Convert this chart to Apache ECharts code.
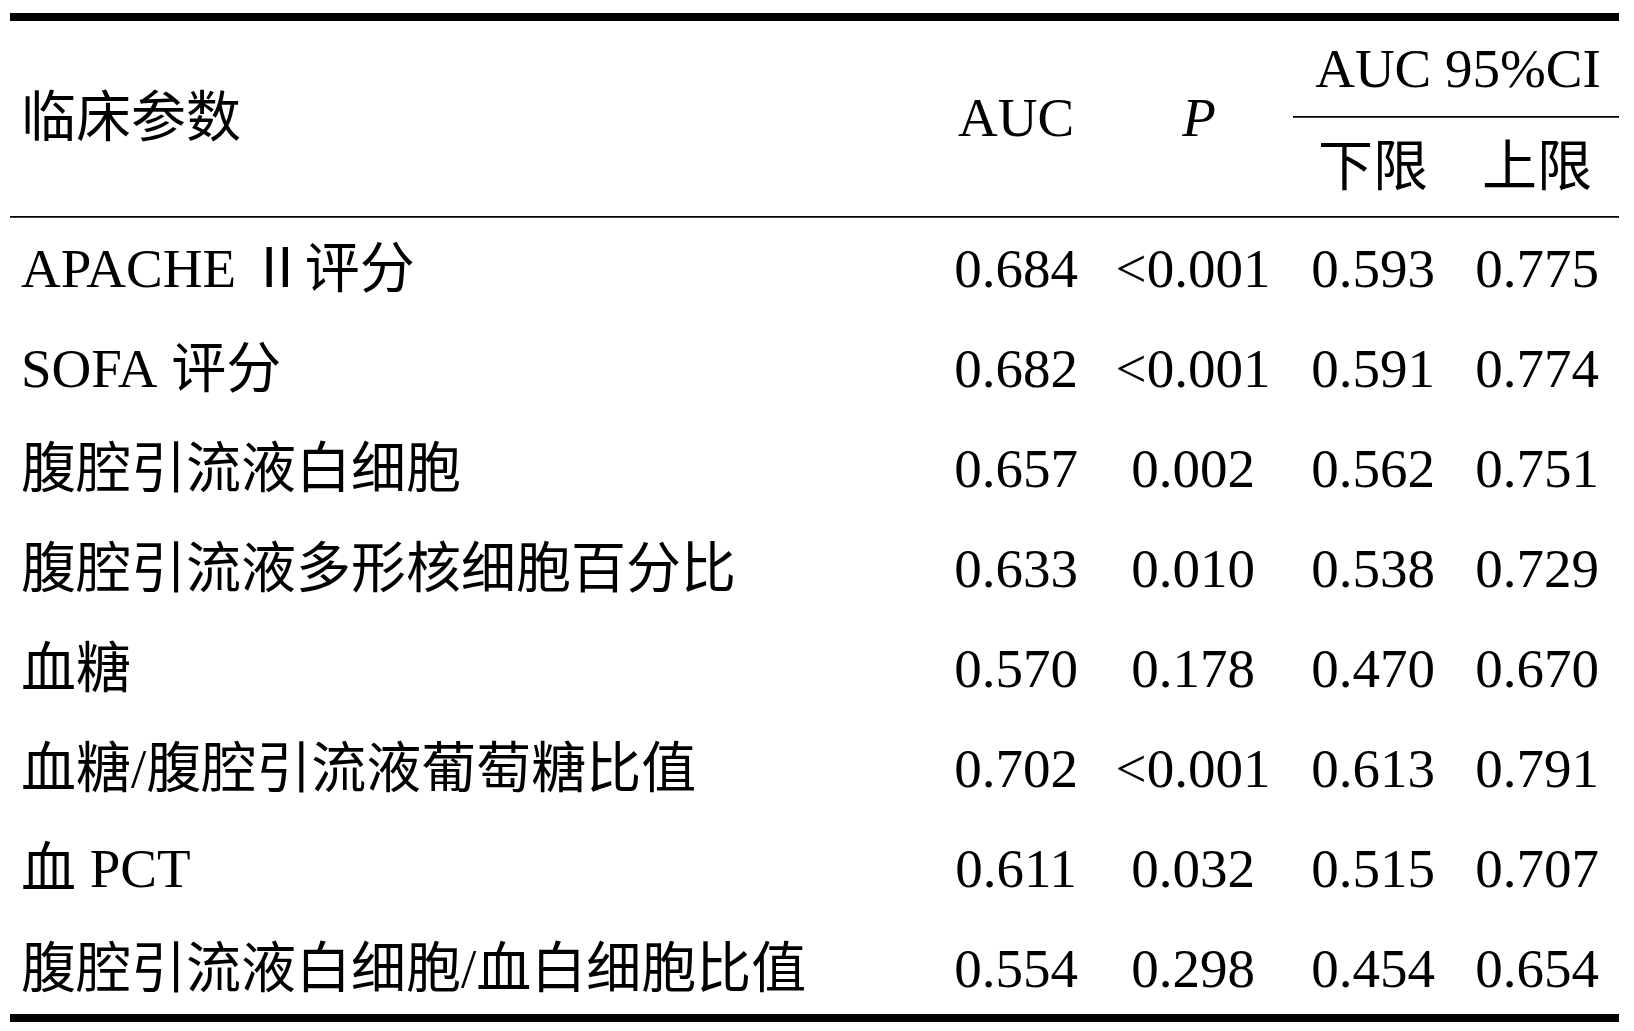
<!DOCTYPE html>
<html>
<head>
<meta charset="utf-8">
<script src="https://cdn.jsdelivr.net/npm/echarts@6/dist/echarts.min.js"></script>
<style>
html,body{margin:0;padding:0;background:#ffffff;}
#chart{width:1634px;height:1031px;}
</style>
</head>
<body>
<div id="chart"></div>
<script>
// ---- table data ----
const params = [
  'APACHE Ⅱ评分',
  'SOFA 评分',
  '腹腔引流液白细胞',
  '腹腔引流液多形核细胞百分比',
  '血糖',
  '血糖/腹腔引流液葡萄糖比值',
  '血 PCT',
  '腹腔引流液白细胞/血白细胞比值'
];
const aucValues = ['0.684', '0.682', '0.657', '0.633', '0.570', '0.702', '0.611', '0.554'];
const pValues   = ['<0.001', '<0.001', '0.002', '0.010', '0.178', '<0.001', '0.032', '0.298'];
const ciLower   = ['0.593', '0.591', '0.562', '0.538', '0.470', '0.613', '0.515', '0.454'];
const ciUpper   = ['0.775', '0.774', '0.751', '0.729', '0.670', '0.791', '0.707', '0.654'];

// ---- header labels ----
const headParam = '临床参数';
const headAuc = 'AUC';
const headP = 'P';
const headCI = 'AUC 95%CI';
const headLower = '下限';
const headUpper = '上限';

// ---- layout (pixels) ----
const W = 1634, H = 1031;
const FONT = '"Liberation Serif", "Times New Roman", "Noto Sans CJK SC", serif';
const FS = 55;
const DY = 5;                                 // baseline nudge for visual centring
const colX = [21, 1016, 1193, 1373, 1537];   // first col left edge, others centres
const tableLeft = 10, tableRight = 1619;

const columns = [params, aucValues, pValues, ciLower, ciUpper];

const chart = echarts.init(document.getElementById('chart'), null, {renderer: 'canvas'});

function headText(text, x, y, align, style) {
  return {
    type: 'text', x: x, y: y + DY,
    style: {
      text: text, fill: '#000',
      font: (style || 'normal') + ' ' + FS + 'px ' + FONT,
      align: align, verticalAlign: 'middle'
    }
  };
}

const option = {
  backgroundColor: '#ffffff',
  animation: false,
  grid: {left: 0, right: 0, top: 218, bottom: H - 1018, containLabel: false},
  xAxis: {type: 'value', min: 0, max: W, show: false},
  yAxis: {type: 'category', data: params, inverse: true, show: false},
  graphic: [
    // rules
    {type: 'rect', shape: {x: tableLeft, y: 13, width: tableRight - tableLeft, height: 8}, style: {fill: '#000'}},
    {type: 'rect', shape: {x: 1293, y: 116, width: tableRight - 1293, height: 1.8}, style: {fill: '#000'}},
    {type: 'rect', shape: {x: tableLeft, y: 216, width: tableRight - tableLeft, height: 1.8}, style: {fill: '#000'}},
    {type: 'rect', shape: {x: tableLeft, y: 1014, width: tableRight - tableLeft, height: 8}, style: {fill: '#000'}},
    // header texts
    headText(headParam, colX[0], 117, 'left'),
    headText(headAuc, colX[1], 117, 'center'),
    headText(headP, colX[2] + 6, 117, 'center', 'italic'),
    headText(headCI, 1458, 68, 'center'),
    headText(headLower, colX[3], 166, 'center'),
    headText(headUpper, colX[4], 166, 'center')
  ],
  series: [{
    type: 'custom',
    coordinateSystem: 'cartesian2d',
    data: params.map(function (p, i) { return [0, i]; }),
    renderItem: function (paramsRI, api) {
      const row = api.value(1);
      const children = [];
      for (let c = 0; c < columns.length; c++) {
        const pt = api.coord([colX[c], row]);
        children.push({
          type: 'text',
          x: pt[0], y: pt[1] + DY,
          style: {
            text: columns[c][row],
            fill: '#000',
            font: 'normal ' + FS + 'px ' + FONT,
            align: c === 0 ? 'left' : 'center',
            verticalAlign: 'middle'
          }
        });
      }
      return {type: 'group', children: children};
    }
  }]
};
chart.setOption(option);
</script>
</body>
</html>
